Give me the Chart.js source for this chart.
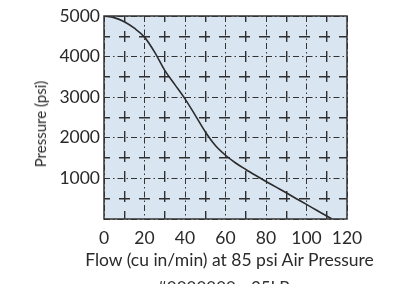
<!DOCTYPE html>
<html>
<head>
<meta charset="utf-8">
<script src="https://cdn.jsdelivr.net/npm/chart.js@4"></script>
<style>
  html, body { margin:0; padding:0; background:#fff; overflow:hidden; }
  .wrap { position:relative; width:400px; height:284px; font-family:Lato, sans-serif; color:#2a2a2a; }
  .xtitle { position:absolute; left:0; width:459px; top:249px; text-align:center; font-size:17.5px; line-height:21px; white-space:nowrap; }
  .ytitle { position:absolute; left:40px; top:124px; font-size:15px; line-height:18px; white-space:nowrap; transform:translate(-50%,-50%) rotate(-90deg); }
  .foot { position:absolute; left:157px; top:277px; font-size:17px; color:#333; white-space:nowrap; }
</style>
</head>
<body>
<div class="wrap">
  <canvas id="pumpChart" width="400" height="284"></canvas>
  <div class="xtitle">Flow (cu in/min) at 85 psi Air Pressure</div>
  <div class="ytitle">Pressure (psi)</div>
  <div class="foot">#0000000 - 25LP</div>
</div>
<script>
/* 泵性能曲线 */
const flow     = [0, 5, 10, 15, 20, 25, 30, 35, 40, 45, 50, 55, 60, 65, 70, 75, 80, 85, 90, 95, 100, 105, 110, 112.6];
const pressure = [5000, 4960, 4860, 4700, 4480, 4110, 3660, 3310, 2960, 2560, 2150, 1810, 1570, 1380, 1220, 1070, 925, 785, 645, 500, 360, 215, 75, 0];
const xTicks = [0, 20, 40, 60, 80, 100, 120];
const yTicks = [1000, 2000, 3000, 4000, 5000];

const txt = '#2a2a2a';
const font = { family:'Lato, sans-serif', size:17.5 };

const plotBg = {
  id:'plotBg',
  beforeDraw(chart) {
    const a = chart.chartArea, c = chart.ctx;
    c.save(); c.fillStyle = '#dae5f2'; c.fillRect(a.left, a.top, a.right - a.left, a.bottom - a.top); c.restore();
  },
  afterDraw(chart) {
    const a = chart.chartArea, c = chart.ctx;
    c.save(); c.strokeStyle = '#333'; c.lineWidth = 1.5;
    c.strokeRect(a.left, a.top, a.right - a.left, a.bottom - a.top); c.restore();
  }
};

const ctx = document.getElementById('pumpChart').getContext('2d');
new Chart(ctx, {
  type: 'line',
  data: {
    datasets: [{
      data: flow.map((f, i) => ({ x:f, y:pressure[i] })),
      borderColor:'#2b2b2b', borderWidth:1.6, pointRadius:0, cubicInterpolationMode:'monotone', fill:false
    }]
  },
  options: {
    responsive:false, animation:false,
    layout: { padding:{ top:16, right:53, left:0, bottom:0 } },
    plugins: { legend:{ display:false }, tooltip:{ enabled:false } },
    scales: {
      x: {
        type:'linear', min:0, max:120,
        afterBuildTicks: s => { s.ticks = xTicks.map(v => ({ value:v })); },
        afterFit: s => { s.height = 65; },
        ticks: { color:txt, font, padding:9 },
        grid: { drawTicks:false, color:'#333', lineWidth:1 },
        border: { display:false, dash:[6,3,1.5,3] }
      },
      x2: {
        type:'linear', min:0, max:120, position:'bottom',
        afterBuildTicks: s => { s.ticks = [10, 30, 50, 70, 90, 110].map(v => ({ value:v })); },
        afterFit: s => { s.height = 0; },
        ticks: { display:false },
        grid: { drawTicks:false, color:'#2f2f2f', lineWidth:1.4 },
        border: { display:false, dash:[11,9], dashOffset:5 }
      },
      y: {
        type:'linear', min:0, max:5000,
        afterBuildTicks: s => { s.ticks = [0].concat(yTicks).map(v => ({ value:v })); },
        afterFit: s => { s.width = 104; },
        ticks: { color:txt, font, padding:4, callback: v => v === 0 ? '' : v },
        grid: { drawTicks:false, color:'#333', lineWidth:1 },
        border: { display:false, dash:[6,3,1.5,3] }
      },
      y2: {
        type:'linear', min:0, max:5000, position:'left',
        afterBuildTicks: s => { s.ticks = [500, 1500, 2500, 3500, 4500].map(v => ({ value:v })); },
        afterFit: s => { s.width = 0; },
        ticks: { display:false },
        grid: { drawTicks:false, color:'#2f2f2f', lineWidth:1.4 },
        border: { display:false, dash:[11,9], dashOffset:5 }
      }
    }
  },
  plugins: [plotBg]
});
</script>
</body>
</html>
